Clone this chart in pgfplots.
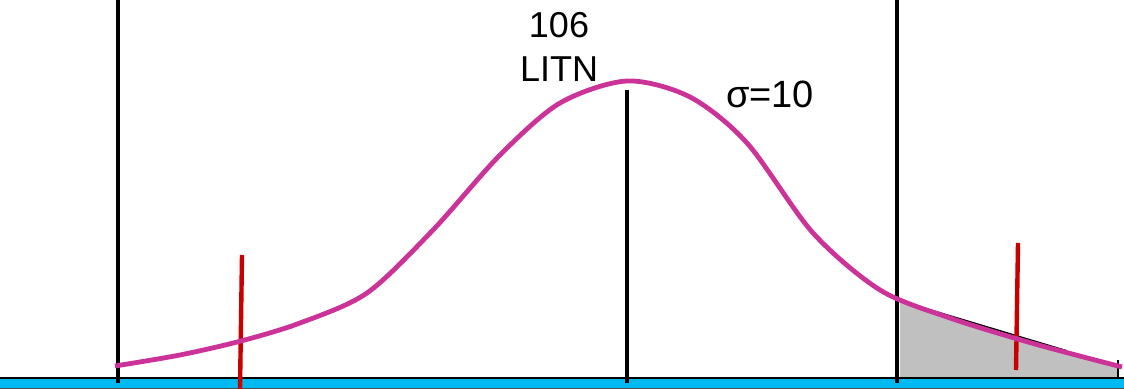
\documentclass[border=0pt]{standalone}
\usepackage{pgfplots}
\pgfplotsset{compat=1.18}
\usepackage{fontspec}
\setmainfont{Liberation Sans}
\definecolor{curve}{RGB}{204,51,153}
\definecolor{redl}{RGB}{200,0,0}
\definecolor{basecyan}{RGB}{0,185,240}
\definecolor{shade}{RGB}{192,192,192}
\begin{document}
\begin{tikzpicture}
\begin{axis}[
  hide axis, scale only axis,
  x=0.5pt, y=0.5pt, y dir=reverse,
  xmin=0, xmax=1124, ymin=0, ymax=389,
  clip=true,
]
% shaded tail
\addplot[draw=none, fill=shade] coordinates {(900,301) (1067,351) (1118,365) (1118,379) (900,379)} -- cycle;
\addplot[black, line width=0.9pt] coordinates {(900,301) (1067,351)};
\addplot[black, line width=0.8pt] coordinates {(1118,360) (1118,379)};
% baseline
\addplot[draw=none, fill=basecyan] coordinates {(-5,378) (1130,378) (1130,389.5) (-5,389.5)} -- cycle;
\addplot[black, line width=1pt] coordinates {(-5,378) (1130,378)};
\addplot[black!70, line width=0.5pt] coordinates {(-5,388.3) (1130,388.3)};
% vertical lines
\addplot[black, line width=2.4pt] coordinates {(118,0) (118,383)};
\addplot[black, line width=2.4pt] coordinates {(897,0) (897,383)};
\addplot[black, line width=2.4pt] coordinates {(627,90) (627,383)};
% red lines
\addplot[redl, line width=2.2pt] coordinates {(242,255) (240,389)};
\addplot[redl, line width=2.2pt] coordinates {(1018,243) (1016,370)};
% curve
\addplot[curve, line width=2.4pt, smooth, tension=0.5] coordinates {
(115,366) (180,355) (241,341) (300,323) (367,293) (433,230) (500,155)
(560,103) (627,81) (690,97) (747,143) (813,233) (880,290) (950,318)
(1035,344) (1122,367)};
\node[font=\fontsize{18}{21}\selectfont, align=center, inner sep=0pt] at (axis cs:559,47) {106\\[1pt]LITN};
\node[font=\fontsize{19}{22}\selectfont, inner sep=0pt, anchor=base] at (axis cs:770,108) {σ=10};
\end{axis}
\end{tikzpicture}
\end{document}
